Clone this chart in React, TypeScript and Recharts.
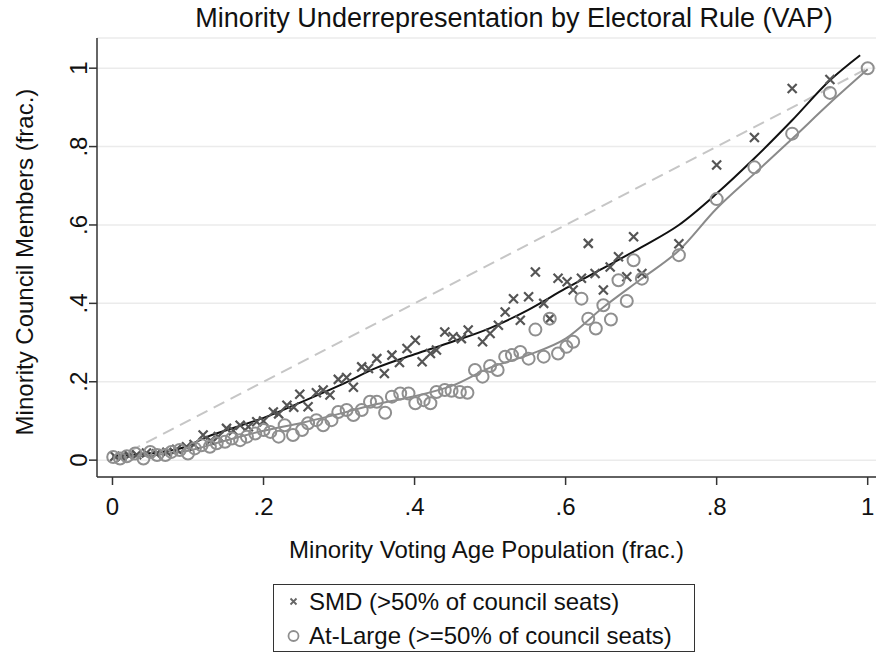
import React from "react";
import {
  ComposedChart,
  Scatter,
  Line,
  XAxis,
  YAxis,
  CartesianGrid,
} from "recharts";

// SMD cities: [minority VAP share, minority council share]
const smdX = [
  0.003, 0.012, 0.022, 0.032, 0.045, 0.058, 0.072, 0.085, 0.098, 0.108,
  0.12, 0.13, 0.14, 0.151, 0.16, 0.169, 0.18, 0.191, 0.2, 0.213,
  0.22, 0.231, 0.24, 0.248, 0.259, 0.27, 0.279, 0.288, 0.299, 0.31,
  0.319, 0.33, 0.339, 0.35, 0.36, 0.37, 0.38, 0.39, 0.401, 0.41,
  0.421, 0.429, 0.44, 0.451, 0.462, 0.471, 0.49, 0.5, 0.511, 0.52,
  0.531, 0.54, 0.551, 0.56, 0.571, 0.579, 0.59, 0.602, 0.61, 0.621,
  0.63, 0.639, 0.65, 0.659, 0.67, 0.681, 0.69, 0.701, 0.75, 0.8,
  0.85, 0.9, 0.95,
];
const smdY = [
  0.01, 0.008, 0.012, 0.014, 0.018, 0.016, 0.02, 0.028, 0.034, 0.04,
  0.064, 0.05, 0.06, 0.081, 0.075, 0.089, 0.085, 0.098, 0.1, 0.123,
  0.118, 0.14, 0.135, 0.168, 0.136, 0.172, 0.179, 0.166, 0.206, 0.211,
  0.186, 0.238, 0.234, 0.259, 0.221, 0.268, 0.249, 0.285, 0.306, 0.251,
  0.272, 0.281, 0.327, 0.315, 0.31, 0.332, 0.302, 0.323, 0.344, 0.378,
  0.412, 0.357, 0.417, 0.48, 0.4, 0.361, 0.464, 0.455, 0.434, 0.464,
  0.553, 0.476, 0.434, 0.493, 0.519, 0.468, 0.57, 0.476, 0.552, 0.753,
  0.823, 0.948, 0.971,
];

// At-Large cities
const atlX = [
  0.001, 0.01, 0.019, 0.03, 0.041, 0.05, 0.059, 0.07, 0.078, 0.089,
  0.1, 0.109, 0.118, 0.129, 0.138, 0.149, 0.158, 0.169, 0.178, 0.189,
  0.2, 0.209, 0.22, 0.228, 0.239, 0.251, 0.259, 0.27, 0.279, 0.29,
  0.299, 0.31, 0.319, 0.33, 0.341, 0.35, 0.361, 0.37, 0.381, 0.392,
  0.401, 0.412, 0.421, 0.429, 0.44, 0.449, 0.46, 0.47, 0.48, 0.49,
  0.5, 0.51, 0.52, 0.529, 0.54, 0.551, 0.56, 0.571, 0.579, 0.59,
  0.601, 0.61, 0.621, 0.63, 0.64, 0.65, 0.66, 0.67, 0.681, 0.69,
  0.701, 0.75, 0.8, 0.85, 0.9, 0.95, 1.0,
];
const atlY = [
  0.008, 0.004, 0.01, 0.017, 0.004, 0.021, 0.013, 0.013, 0.021, 0.026,
  0.017, 0.03, 0.038, 0.034, 0.043, 0.047, 0.055, 0.051, 0.06, 0.068,
  0.077, 0.072, 0.06, 0.089, 0.064, 0.077, 0.094, 0.102, 0.089, 0.102,
  0.123, 0.128, 0.115, 0.128, 0.149, 0.149, 0.121, 0.162, 0.17, 0.17,
  0.145, 0.153, 0.145, 0.174, 0.179, 0.177, 0.174, 0.172, 0.23, 0.213,
  0.24, 0.23, 0.264, 0.268, 0.276, 0.259, 0.333, 0.264, 0.361, 0.272,
  0.289, 0.302, 0.412, 0.361, 0.336, 0.395, 0.359, 0.459, 0.406, 0.51,
  0.463, 0.523, 0.666, 0.747, 0.833, 0.937, 1.0,
];

// lowess fits
const smdFitX = [0, 0.04, 0.07, 0.1, 0.12, 0.16, 0.2, 0.25, 0.3, 0.35, 0.4, 0.45, 0.5, 0.55, 0.6, 0.65, 0.7, 0.75, 0.8, 0.85, 0.9, 0.95, 0.99];
const smdFitY = [0.01, 0.016, 0.022, 0.036, 0.055, 0.082, 0.108, 0.148, 0.19, 0.236, 0.27, 0.302, 0.337, 0.383, 0.438, 0.49, 0.543, 0.6, 0.68, 0.77, 0.867, 0.969, 1.033];
const atlFitX = [0, 0.05, 0.1, 0.15, 0.2, 0.25, 0.3, 0.35, 0.4, 0.45, 0.5, 0.55, 0.6, 0.65, 0.7, 0.75, 0.8, 0.85, 0.9, 0.95, 1.0];
const atlFitY = [0.006, 0.012, 0.024, 0.05, 0.075, 0.095, 0.118, 0.143, 0.163, 0.19, 0.236, 0.268, 0.31, 0.39, 0.462, 0.535, 0.642, 0.731, 0.82, 0.911, 0.997];

const equalityX = [0, 1];
const ticks = [0, 0.2, 0.4, 0.6, 0.8, 1];
const tickLabels = ["0", ".2", ".4", ".6", ".8", "1"];

const zip = (xs: number[], ys: number[]) => xs.map((x, i) => ({ x, y: ys[i] }));
const smdData = zip(smdX, smdY);
const atlData = zip(atlX, atlY);
const smdFit = zip(smdFitX, smdFitY);
const atlFit = zip(atlFitX, atlFitY);
const equality = zip(equalityX, equalityX);

const FONT = "'Liberation Sans', Arial, sans-serif";
const label = (v: number) => tickLabels[ticks.indexOf(v)] ?? String(v);

const Cross = (p: any) => {
  const { cx, cy } = p;
  const s = 4.5;
  return (
    <path
      d={`M${cx - s},${cy - s}L${cx + s},${cy + s}M${cx - s},${cy + s}L${cx + s},${cy - s}`}
      stroke="#555"
      strokeWidth={2.2}
      fill="none"
    />
  );
};
const Ring = (p: any) => (
  <circle cx={p.cx} cy={p.cy} r={6} fill="none" stroke="#8f8f8f" strokeWidth={2} />
);

const XTick = (p: any) => (
  <text x={p.x} y={515} textAnchor="middle" fontSize={24} fontFamily={FONT} fill="#111">
    {label(p.payload.value)}
  </text>
);
const YTick = (p: any) => (
  <text
    x={87}
    y={p.y}
    textAnchor="middle"
    fontSize={24}
    fontFamily={FONT}
    fill="#111"
    transform={`rotate(-90 87 ${p.y})`}
  >
    {label(p.payload.value)}
  </text>
);

export default function App() {
  return (
    <div style={{ position: "absolute", left: 0, top: 0, width: 876, height: 656, background: "#fff", fontFamily: FONT, color: "#111" }}>
      <ComposedChart width={876} height={656} margin={{ top: 38, right: 0, bottom: 119, left: 37 }}>
        <CartesianGrid horizontal vertical={false} stroke="#ebebeb" strokeWidth={1.5} />
        <XAxis
          type="number"
          dataKey="x"
          domain={[-0.0205, 1.011]}
          ticks={ticks}
          height={60}
          tickSize={8}
          tick={<XTick />}
          axisLine={{ stroke: "#333", strokeWidth: 1.5 }}
          tickLine={{ stroke: "#333", strokeWidth: 1.5 }}
          allowDataOverflow
        />
        <YAxis
          type="number"
          dataKey="y"
          domain={[-0.043, 1.077]}
          ticks={ticks}
          width={60}
          tickSize={8}
          tick={<YTick />}
          axisLine={{ stroke: "#333", strokeWidth: 1.5 }}
          tickLine={{ stroke: "#333", strokeWidth: 1.5 }}
          allowDataOverflow
        />
        <Line
          data={equality}
          dataKey="y"
          type="linear"
          stroke="#c6c6c6"
          strokeWidth={2}
          strokeDasharray="12 7"
          dot={false}
          activeDot={false}
          isAnimationActive={false}
        />
        <Scatter data={smdData} dataKey="y" shape={Cross} isAnimationActive={false} />
        <Scatter data={atlData} dataKey="y" shape={Ring} isAnimationActive={false} />
        <Line
          data={smdFit}
          dataKey="y"
          type="monotone"
          stroke="#111"
          strokeWidth={2}
          dot={false}
          activeDot={false}
          isAnimationActive={false}
        />
        <Line
          data={atlFit}
          dataKey="y"
          type="monotone"
          stroke="#8a8a8a"
          strokeWidth={2}
          dot={false}
          activeDot={false}
          isAnimationActive={false}
        />
      </ComposedChart>

      <div style={{ position: "absolute", left: 14, width: 1000, top: 3, textAlign: "center", fontSize: 27, whiteSpace: "nowrap" }}>
        Minority Underrepresentation by Electoral Rule (VAP)
      </div>
      <div style={{ position: "absolute", left: 97, width: 779, top: 536, textAlign: "center", fontSize: 24, whiteSpace: "nowrap" }}>
        Minority Voting Age Population (frac.)
      </div>
      <div
        style={{
          position: "absolute",
          left: 25 - 250,
          top: 262 - 15,
          width: 500,
          height: 30,
          lineHeight: "30px",
          textAlign: "center",
          fontSize: 24,
          whiteSpace: "nowrap",
          transform: "rotate(-90deg)",
        }}
      >
        Minority Council Members (frac.)
      </div>

      <div
        style={{
          position: "absolute",
          left: 273,
          top: 584,
          width: 422,
          height: 68,
          border: "1.5px solid #333",
          boxSizing: "border-box",
          fontSize: 24,
          lineHeight: "34px",
          paddingLeft: 10,
          paddingTop: 0,
        }}
      >
        <div style={{ display: "flex", alignItems: "center", whiteSpace: "nowrap" }}>
          <svg width={20} height={20}>
            <path d="M6.5,6.5L12.5,12.5M6.5,12.5L12.5,6.5" stroke="#666" strokeWidth={1.8} />
          </svg>
          <span style={{ marginLeft: 5 }}>SMD (&gt;50% of council seats)</span>
        </div>
        <div style={{ display: "flex", alignItems: "center", whiteSpace: "nowrap" }}>
          <svg width={20} height={20}>
            <circle cx={9.5} cy={10} r={5} fill="none" stroke="#8f8f8f" strokeWidth={1.8} />
          </svg>
          <span style={{ marginLeft: 5 }}>At-Large (&gt;=50% of council seats)</span>
        </div>
      </div>
    </div>
  );
}
